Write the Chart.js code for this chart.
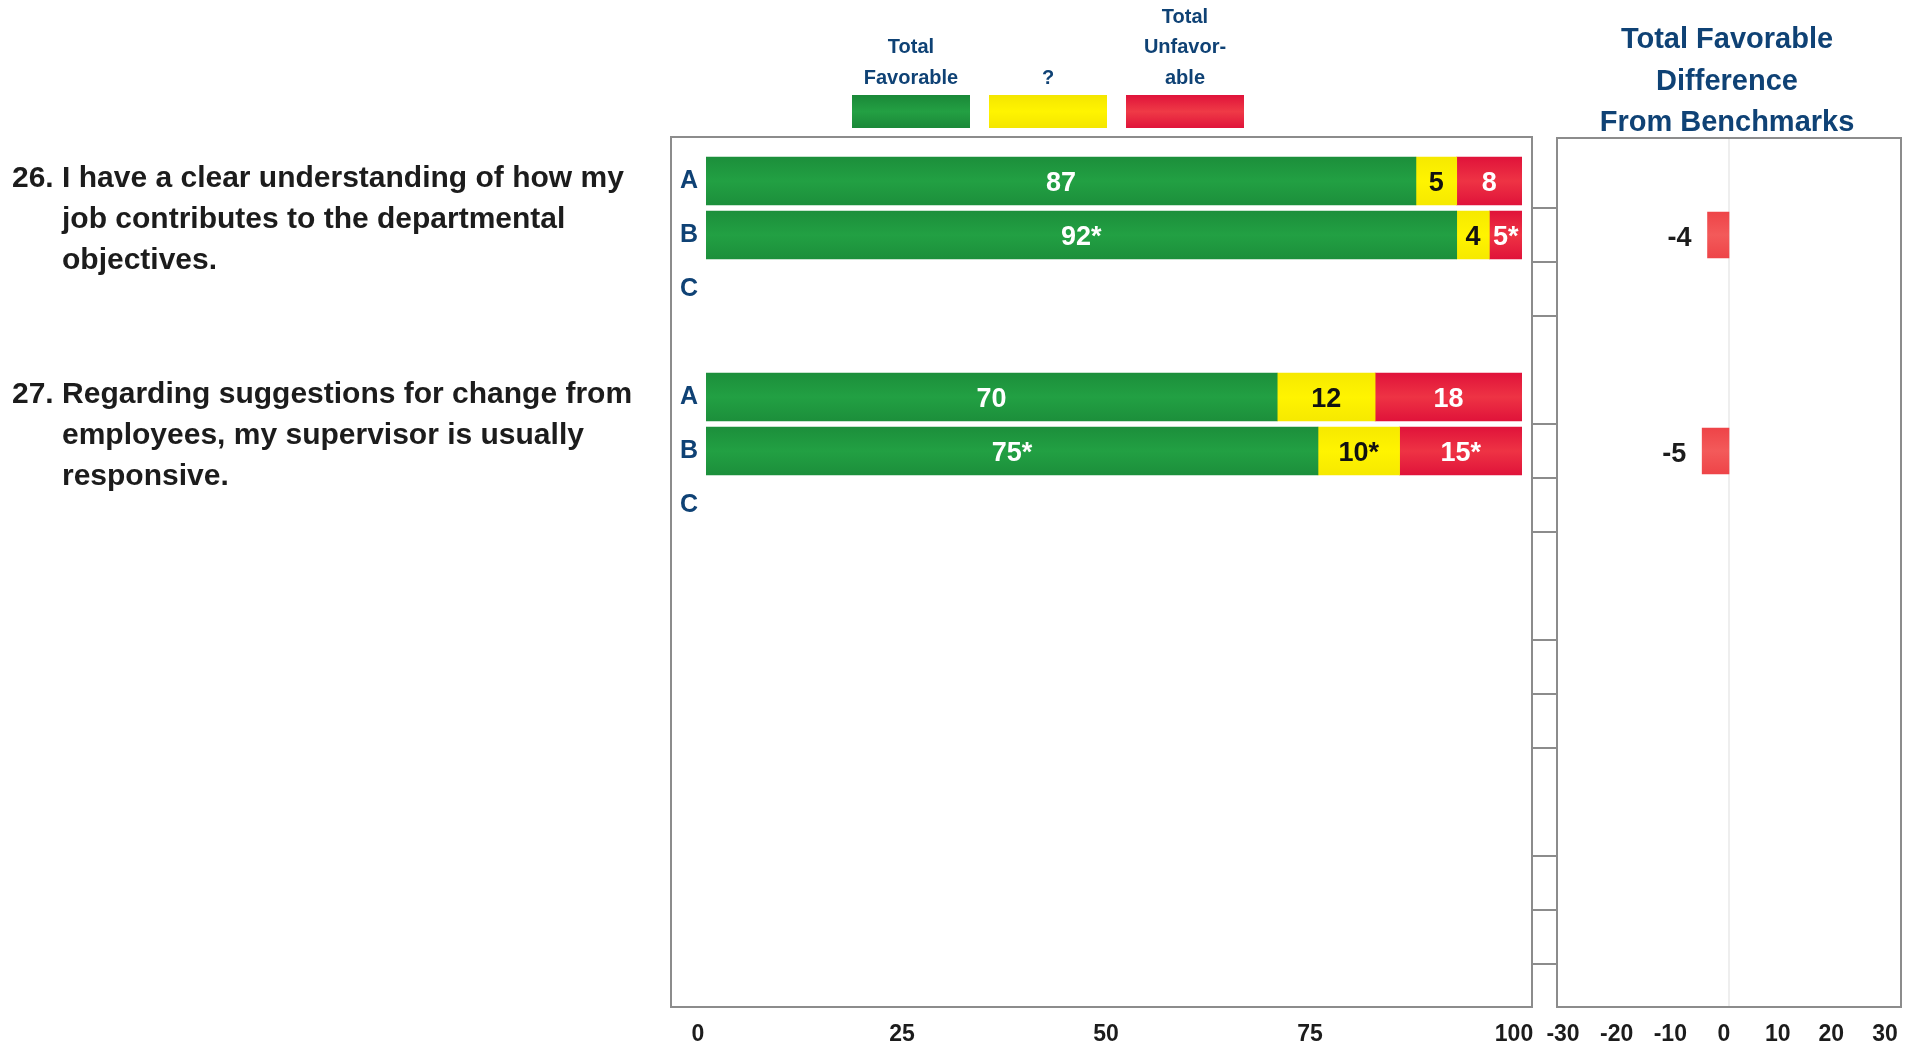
<!DOCTYPE html>
<html>
<head>
<meta charset="utf-8">
<title>Total Favorable / Difference From Benchmarks</title>
<script src="https://cdn.jsdelivr.net/npm/chart.js@4.4.1/dist/chart.umd.min.js"></script>
<style>
    html, body { margin: 0; padding: 0; background: #fff; }
    #page {
        position: relative; width: 1914px; height: 1047px; overflow: hidden;
        font-family: "Liberation Sans", Arial, sans-serif;
    }
    canvas { position: absolute; left: 0; top: 0; }
    .question {
        position: absolute; left: 12px; width: 640px;
        font-weight: bold; font-size: 30px; line-height: 41px; color: #1c1c1c;
        padding-left: 50px; text-indent: -50px; white-space: nowrap;
    }
    .legend-item { position: absolute; top: 0; width: 160px; height: 128px; }
    .legend-item .lbl {
        position: absolute; left: 0; right: 0; bottom: 36px;
        text-align: center; white-space: pre-line;
        font-weight: bold; font-size: 20px; line-height: 30.5px; color: #0f4275;
    }
    .legend-item .swatch { position: absolute; left: 21px; bottom: 0; width: 118px; height: 33px; }
    #diffTitle {
        position: absolute; left: 1527px; width: 400px; top: 18px;
        text-align: center; font-weight: bold; font-size: 29px; line-height: 41.5px; color: #0f4275;
    }
</style>
</head>
<body>
<div id="page">
    <canvas id="mainChart" width="1914" height="1047"></canvas>
    <canvas id="diffChart" width="1914" height="1047"></canvas>
    <div id="legend"></div>
    <div id="diffTitle"></div>
    <div id="questions"></div>
</div>
<script>
// ---- data ----
const questionNumbers = ['26.', '27.'];
const questionLines = [
    ['I have a clear understanding of how my', 'job contributes to the departmental', 'objectives.'],
    ['Regarding suggestions for change from', 'employees, my supervisor is usually', 'responsive.']
];
// four rows per question slot (A, B, C, blank); the last two slots are empty
const rowLabels = ['A', 'B', 'C', '', 'A', 'B', 'C', '', '', '', '', '', '', '', '', ''];

const favorable   = [87, 92, null, null, 70, 75, null, null, null, null, null, null, null, null, null, null];
const neutral     = [5, 4, null, null, 12, 10, null, null, null, null, null, null, null, null, null, null];
const unfavorable = [8, 5, null, null, 18, 15, null, null, null, null, null, null, null, null, null, null];
const diffFromBenchmark = [null, -4, null, null, null, -5, null, null, null, null, null, null, null, null, null, null];

// rows whose value carries an asterisk
const starredFavorable = [1, 5];
const starredNeutral = [5];
const starredUnfavorable = [1, 5];

const mainTicks = [0, 25, 50, 75, 100];
const diffTicks = [-30, -20, -10, 0, 10, 20, 30];

const seriesLabels = ['Total\nFavorable', '?', 'Total\nUnfavor-\nable'];
const diffTitle = 'Total Favorable\nDifference\nFrom Benchmarks';

// ---- styles ----
const NAVY = '#0f4275';
const FRAME = '#8c8c8c';
const tickFont = { family: "'Liberation Sans Narrow', 'Liberation Sans', Arial, sans-serif", size: 23, weight: 'bold' };
const valueFont = 'bold 27px "Liberation Sans", Arial, sans-serif';

function barFill(top, bottom, thickness) {
    return ctx => {
        const chart = ctx.chart;
        if (ctx.type !== 'data' || !chart.chartArea || !chart.scales.y) return bottom;
        const y = chart.scales.y.getPixelForValue(ctx.dataIndex);
        const g = chart.ctx.createLinearGradient(0, y - thickness / 2, 0, y + thickness / 2);
        g.addColorStop(0, top);
        g.addColorStop(0.5, bottom);
        g.addColorStop(1, top);
        return g;
    };
}

/* ===============================
   Frame around a panel (drawn outside the chart area)
================================ */
const framePlugin = {
    id: 'frame',
    beforeDatasetsDraw(chart, args, opts) {
        const a = chart.chartArea;
        const ctx = chart.ctx;
        const box = {
            left: a.left - opts.left, right: a.right + opts.right,
            top: a.top - opts.top, bottom: a.bottom - opts.bottom
        };
        ctx.save();
        if (opts.zeroLine) {
            const x0 = chart.scales.x.getPixelForValue(0);
            ctx.strokeStyle = '#e9e9e9';
            ctx.lineWidth = 1.5;
            ctx.beginPath();
            ctx.moveTo(x0, box.top);
            ctx.lineTo(x0, box.bottom);
            ctx.stroke();
        }
        ctx.strokeStyle = FRAME;
        ctx.lineWidth = 2;
        ctx.strokeRect(box.left, box.top, box.right - box.left, box.bottom - box.top);

        // little row dividers in the gap between the two panels
        if (opts.strip) {
            const y = chart.scales.y;
            ctx.beginPath();
            for (let g = 0; g < rowLabels.length; g += 4) {
                [g, g + 1, g + 2].forEach(i => {
                    const yy = (y.getPixelForValue(i) + y.getPixelForValue(i + 1)) / 2;
                    ctx.moveTo(box.right, yy);
                    ctx.lineTo(box.right + opts.strip, yy);
                });
            }
            ctx.stroke();
        }
        ctx.restore();
    }
};

/* ===============================
   Value labels inside the stacked segments
================================ */
const segmentLabels = {
    id: 'segmentLabels',
    afterDatasetsDraw(chart) {
        const ctx = chart.ctx;
        const right = chart.chartArea.right;
        ctx.save();
        ctx.font = valueFont;
        ctx.textAlign = 'center';
        ctx.textBaseline = 'middle';
        chart.data.datasets.forEach((ds, di) => {
            chart.getDatasetMeta(di).data.forEach((el, i) => {
                const v = ds.data[i];
                if (v === null || v === undefined) return;
                const x = (Math.min(el.x, right) + el.base) / 2;
                ctx.fillStyle = ds.textColor;
                ctx.fillText(v + (ds.starred.includes(i) ? '*' : ''), x, el.y + 3);
            });
        });
        ctx.restore();
    }
};

const diffLabels = {
    id: 'diffLabels',
    afterDatasetsDraw(chart) {
        const ctx = chart.ctx;
        const ds = chart.data.datasets[0];
        ctx.save();
        ctx.font = 'bold 27px "Liberation Sans", Arial, sans-serif';
        ctx.fillStyle = '#1c1c1c';
        ctx.textBaseline = 'middle';
        chart.getDatasetMeta(0).data.forEach((el, i) => {
            const v = ds.data[i];
            if (v === null || v === undefined) return;
            ctx.textAlign = v < 0 ? 'right' : 'left';
            ctx.fillText(String(v), v < 0 ? el.x - 16 : el.x + 16, el.y + 4);
        });
        ctx.restore();
    }
};

const commonAxisX = {
    grid: { display: false, drawTicks: false },
    border: { display: false },
    afterFit: s => { s.height = 29; }
};

// ---- main stacked chart ----
const mainChart = new Chart(document.getElementById('mainChart'), {
    type: 'bar',
    data: {
        labels: rowLabels,
        datasets: [
            { label: seriesLabels[0], data: favorable, starred: starredFavorable, textColor: '#ffffff',
              backgroundColor: barFill('#1c8f3b', '#22a043', 48), swatch: 'linear-gradient(#1a8838, #23a043 50%, #1a8838)' },
            { label: seriesLabels[1], data: neutral, starred: starredNeutral, textColor: '#111111',
              backgroundColor: barFill('#f6e900', '#fff400', 48), swatch: 'linear-gradient(#f4e600, #fff400 50%, #f4e600)' },
            { label: seriesLabels[2], data: unfavorable, starred: starredUnfavorable, textColor: '#ffffff',
              backgroundColor: barFill('#e0133a', '#ee3344', 48), swatch: 'linear-gradient(#e0133a, #ef3a46 50%, #e0133a)' }
        ]
    },
    options: {
        indexAxis: 'y',
        responsive: false,
        animation: false,
        events: [],
        layout: { padding: { left: 666, right: 392, top: 154, bottom: 0 } },
        datasets: { bar: { barThickness: 48 } },
        plugins: {
            legend: { display: false },
            tooltip: { enabled: false },
            frame: { left: 35, right: 10, top: 17, bottom: 11, strip: 25 }
        },
        scales: {
            x: {
                ...commonAxisX,
                stacked: true, min: mainTicks[0], max: mainTicks[mainTicks.length - 1],
                afterBuildTicks: s => { s.ticks = mainTicks.map(v => ({ value: v })); },
                ticks: { labelOffset: -8, padding: 3, color: '#1c1c1c', font: tickFont }
            },
            y: {
                stacked: true,
                grid: { display: false },
                border: { display: false },
                ticks: { autoSkip: false, padding: 0, color: NAVY,
                         font: { family: "'Liberation Sans', Arial, sans-serif", size: 25, weight: 'bold' } },
                afterFit: s => { s.width = 40; }
            }
        }
    },
    plugins: [framePlugin, segmentLabels]
});

// ---- difference chart ----
const diffChart = new Chart(document.getElementById('diffChart'), {
    type: 'bar',
    data: {
        labels: rowLabels,
        datasets: [{
            label: diffTitle,
            data: diffFromBenchmark,
            backgroundColor: barFill('#ee4448', '#f35a5a', 46),
            barThickness: 46
        }]
    },
    options: {
        indexAxis: 'y',
        responsive: false,
        animation: false,
        events: [],
        layout: { padding: { left: 1568, right: 24, top: 154, bottom: 0 } },
        plugins: {
            legend: { display: false },
            tooltip: { enabled: false },
            frame: { left: 11, right: 11, top: 16, bottom: 11, zeroLine: true }
        },
        scales: {
            x: {
                ...commonAxisX,
                min: diffTicks[0], max: diffTicks[diffTicks.length - 1],
                afterBuildTicks: s => { s.ticks = diffTicks.map(v => ({ value: v })); },
                ticks: { labelOffset: -5, padding: 3, color: '#1c1c1c', font: tickFont }
            },
            y: { display: false }
        }
    },
    plugins: [framePlugin, diffLabels]
});

// ---- HTML legend, title and question texts ----
const legendEl = document.getElementById('legend');
const legendCenters = [911, 1048, 1185];
mainChart.data.datasets.forEach((ds, i) => {
    const item = document.createElement('div');
    item.className = 'legend-item';
    item.style.left = (legendCenters[i] - 80) + 'px';
    item.innerHTML = '<div class="lbl"></div><div class="swatch"></div>';
    item.querySelector('.lbl').textContent = ds.label;
    item.querySelector('.swatch').style.background = ds.swatch;
    legendEl.appendChild(item);
});

document.getElementById('diffTitle').innerHTML = diffTitle.split('\n').join('<br>');

const qWrap = document.getElementById('questions');
const yScale = mainChart.scales.y;
questionNumbers.forEach((num, q) => {
    const div = document.createElement('div');
    div.className = 'question';
    div.innerHTML = num + ' ' + questionLines[q].join('<br>');
    div.style.top = (yScale.getPixelForValue(q * 4) - 5 - 20.5) + 'px';
    qWrap.appendChild(div);
});
</script>
</body>
</html>
